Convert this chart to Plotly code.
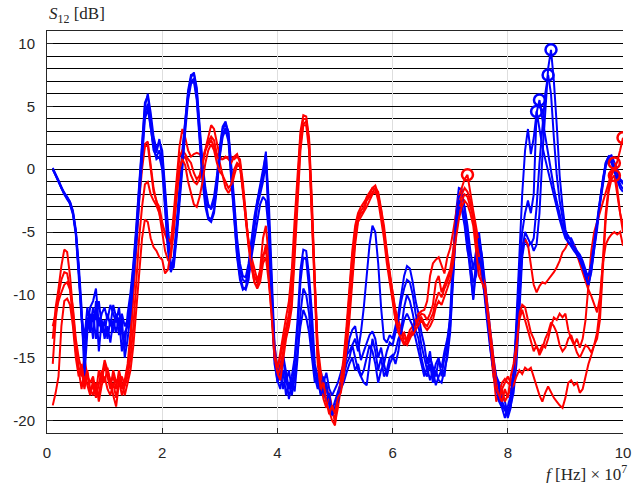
import numpy as np
import plotly.graph_objects as go

# frequency samples (x 10^7 Hz)
f = np.round(np.arange(0.1, 10.0 + 1e-9, 0.05), 2)

blue_1 = [0.0, -0.5, -1.0, -1.6, -2.0, -2.3, -2.8, -3.6, -5.2, -8.5, -12.0, -15.0, -12.5, -11.0, -10.5, -9.5, -12.5, -11.5,
          -11.0, -12.0, -10.8, -11.5, -12.2, -11.0, -13.0, -14.2, -11.5, -9.8, -7.5, -4.5, -1.0, 2.5, 5.3, 5.8, 4.0, 2.2, 1.3, 2.4,
          1.0, -2.0, -5.5, -8.0, -7.0, -4.5, -1.5, 1.5, 4.0, 6.3, 7.5, 7.6, 6.2, 3.0, 0.0, -2.0, -3.0, -3.0, -2.2, -0.5,
          1.8, 3.4, 3.8, 2.8, 0.0, -3.0, -6.0, -8.0, -8.8, -9.0, -8.0, -5.8, -4.0, -2.6, -1.5, -0.5, 1.4, -3.5, -9.5, -14.5,
          -16.5, -15.5, -14.8, -16.0, -17.5, -16.5, -15.0, -12.0, -8.0, -6.4, -6.5, -8.5, -11.5, -15.5, -16.5, -16.0, -17.0, -16.2, -17.5, -18.0,
          -17.5, -17.0, -16.2, -15.5, -14.8, -14.5, -14.0, -13.5, -14.5, -13.0, -11.0, -8.5, -6.0, -4.5, -5.0, -7.5, -11.0, -13.5, -13.8, -13.2,
          -13.5, -12.5, -11.5, -10.0, -8.5, -7.7, -7.9, -9.0, -10.5, -11.5, -13.0, -14.0, -15.5, -14.5, -16.5, -15.5, -15.0, -16.5, -15.0, -14.0,
          -11.5, -7.0, -3.5, -1.5, -1.6, -3.2, -5.0, -8.0, -10.3, -7.0, -5.0, -7.0, -9.5, -11.5, -13.5, -15.5, -16.5, -17.0, -18.0, -18.5,
          -19.5, -18.8, -17.8, -15.5, -11.5, -7.0, -5.5, -6.2, -5.8, -6.5, -6.0, -3.5, 1.0, 5.0, 8.0, 9.5, 7.0, 3.5, -0.5, -3.0,
          -4.8, -5.5, -5.5, -6.0, -6.5, -6.8, -7.3, -8.0, -8.8, -7.8, -6.0, -4.5, -2.5, -1.0, 0.5, 1.0, 1.1, 0.5, 0.0, -0.8,
          -1.2]

blue_2 = [0.0, -0.4, -0.9, -1.5, -1.9, -2.3, -2.6, -3.4, -5.0, -8.0, -11.5, -13.5, -11.0, -12.5, -11.0, -12.0, -10.5, -12.5,
          -13.0, -11.5, -12.5, -10.8, -11.8, -12.5, -11.5, -12.5, -12.0, -10.5, -8.0, -5.0, -1.5, 2.0, 5.0, 6.0, 4.5, 2.6, 1.6, 2.2,
          1.5, -1.5, -5.0, -7.7, -7.3, -5.0, -2.0, 1.0, 3.8, 6.0, 7.3, 7.7, 6.5, 3.5, 0.5, -1.5, -2.8, -3.2, -2.6, -1.0,
          1.5, 3.2, 3.6, 3.0, 0.5, -2.5, -5.5, -7.5, -8.5, -8.6, -7.5, -5.5, -3.8, -2.5, -1.2, 0.0, 1.2, -2.5, -8.5, -14.0,
          -16.0, -16.8, -15.0, -17.0, -16.0, -17.5, -15.5, -13.0, -9.0, -7.0, -7.2, -9.5, -13.0, -16.0, -17.0, -17.8, -16.5, -17.5, -18.5, -19.2,
          -18.5, -17.8, -17.0, -16.0, -15.0, -13.5, -12.8, -12.5, -14.0, -15.2, -14.5, -13.8, -13.2, -12.9, -13.5, -15.0, -14.2, -15.5, -14.5, -13.8,
          -14.0, -13.0, -12.0, -10.5, -9.5, -8.8, -9.0, -10.0, -11.5, -12.5, -14.0, -15.0, -16.0, -15.0, -15.8, -16.5, -15.2, -15.8, -14.5, -13.5,
          -12.0, -8.0, -4.0, -2.2, -2.0, -3.0, -4.5, -6.5, -8.0, -6.5, -5.5, -6.8, -9.0, -11.0, -13.0, -15.0, -16.5, -17.5, -18.5, -19.0,
          -19.8, -19.0, -17.0, -14.5, -10.5, -6.5, -5.0, -5.5, -6.0, -5.5, -3.0, 0.5, 3.5, 6.0, 7.5, 6.0, 2.5, -0.5, -2.5, -4.0,
          -5.2, -5.8, -6.0, -6.2, -6.8, -7.2, -7.8, -8.5, -9.3, -8.0, -6.5, -4.8, -2.8, -1.2, 0.2, 0.9, 0.8, 0.0, -0.5, -1.2,
          -1.6]

blue_3 = [0.1, -0.4, -0.9, -1.5, -1.9, -2.2, -2.6, -3.3, -4.8, -7.5, -11.0, -16.5, -13.0, -11.5, -13.5, -10.5, -14.5, -12.0,
          -13.5, -12.5, -13.8, -12.0, -13.0, -11.8, -14.5, -13.0, -12.5, -11.0, -8.5, -5.5, -2.0, 1.5, 4.5, 5.2, 3.5, 1.5, 1.0, 1.5,
          0.5, -2.5, -6.0, -8.2, -7.5, -5.0, -2.5, 0.5, 3.5, 5.8, 7.0, 7.2, 5.8, 2.5, -0.5, -2.5, -3.8, -4.0, -3.2, -1.2,
          1.2, 2.8, 3.3, 2.5, -0.5, -3.5, -6.8, -8.5, -9.4, -9.6, -8.8, -6.5, -4.5, -3.0, -2.0, -1.0, 0.5, -4.0, -10.0, -15.0,
          -17.0, -16.0, -17.5, -16.5, -18.3, -17.0, -17.7, -15.0, -11.5, -9.5, -10.0, -11.5, -14.5, -16.5, -17.5, -16.8, -18.0, -17.0, -18.8, -19.5,
          -19.0, -18.0, -17.2, -16.5, -15.5, -15.0, -14.0, -15.0, -16.0, -16.5, -17.0, -17.2, -15.5, -13.5, -14.5, -16.0, -15.0, -16.5, -16.0, -15.0,
          -14.8, -15.5, -14.5, -12.5, -11.0, -10.0, -10.5, -11.5, -12.8, -13.5, -15.0, -16.0, -16.5, -15.5, -17.0, -16.0, -16.8, -17.0, -16.0, -15.0,
          -13.0, -9.0, -4.5, -2.5, -2.8, -4.0, -6.0, -8.5, -10.4, -8.0, -6.0, -7.5, -10.0, -12.0, -14.0, -16.0, -17.2, -18.0, -18.8, -19.2,
          -19.5, -18.5, -16.5, -12.0, -6.5, -2.0, 1.5, 3.2, 1.2, 2.5, 4.5, 5.5, 4.0, 2.6, 1.2, 0.0, -1.5, -2.6, -3.5, -4.5,
          -5.0, -5.3, -5.8, -6.2, -6.5, -7.0, -7.5, -8.2, -8.5, -7.5, -5.8, -4.0, -2.2, -0.8, 0.5, 1.0, 0.7, 0.2, -0.3, -0.8,
          -1.0]

blue_4 = [0.0, -0.5, -1.0, -1.6, -2.0, -2.4, -2.7, -3.5, -5.0, -8.0, -12.0, -14.5, -11.8, -13.0, -11.5, -13.5, -11.8, -13.0,
          -12.0, -13.5, -12.0, -13.0, -11.5, -13.2, -12.0, -15.0, -13.5, -11.5, -9.0, -6.0, -2.5, 1.0, 4.0, 4.8, 3.2, 1.8, 0.8, 1.0,
          0.0, -3.0, -6.5, -8.0, -7.8, -5.5, -3.0, 0.0, 3.0, 5.5, 6.8, 7.0, 5.5, 2.0, -1.0, -3.0, -4.0, -4.2, -3.5, -1.5,
          1.0, 2.6, 3.1, 2.2, -1.0, -4.0, -7.0, -8.8, -9.6, -9.4, -8.5, -7.0, -5.5, -4.0, -2.8, -2.2, -2.5, -5.0, -10.5, -15.5,
          -16.8, -17.5, -16.0, -18.0, -17.0, -18.0, -16.5, -14.5, -12.5, -11.2, -11.8, -13.0, -15.0, -17.0, -16.5, -18.0, -17.5, -18.5, -17.8, -19.6,
          -19.0, -18.5, -17.5, -17.0, -16.2, -15.5, -15.0, -16.0, -15.5, -16.5, -16.0, -15.0, -14.0, -14.5, -15.5, -17.0, -16.0, -15.5, -16.5, -15.5,
          -15.0, -14.5, -13.5, -13.0, -12.0, -11.5, -12.0, -12.5, -13.5, -14.5, -15.5, -16.5, -15.8, -16.8, -16.0, -17.2, -16.5, -16.0, -16.5, -14.5,
          -12.5, -8.5, -5.0, -3.0, -3.2, -4.5, -6.5, -7.5, -9.0, -8.5, -7.0, -8.0, -10.5, -12.5, -14.5, -16.2, -17.5, -18.5, -19.0, -19.8,
          -19.0, -18.0, -16.0, -13.0, -8.5, -5.0, -3.5, -2.5, -3.5, -2.0, 4.6, 3.0, 1.8, 0.8, -0.2, -1.0, -2.0, -3.0, -4.0, -4.8,
          -5.5, -5.8, -6.2, -6.5, -6.8, -7.2, -7.8, -8.6, -9.2, -8.2, -6.2, -4.5, -2.5, -1.0, 0.3, 0.8, 0.5, -0.2, -0.8, -1.5,
          -1.8]

red_1 = [-13.5, -11.0, -9.5, -7.7, -6.4, -6.6, -8.5, -11.5, -14.0, -15.8, -16.5, -15.0, -16.5, -17.0, -16.5, -17.8, -16.0, -17.0,
         -15.5, -16.5, -17.5, -16.0, -17.0, -16.5, -17.5, -16.8, -15.5, -13.0, -9.5, -5.5, -2.0, 0.5, 2.0, 2.2, 0.3, -1.5, -2.6, -3.0,
         -4.2, -5.2, -5.8, -6.0, -3.5, -0.5, 1.8, 3.2, 2.5, 1.5, 1.0, 1.2, 1.3, 1.2, 0.8, 1.6, 2.5, 3.5, 3.2, 2.0,
         1.0, 0.8, 0.9, 1.0, 1.0, 0.8, 1.0, 0.8, -1.0, -3.5, -6.0, -7.5, -8.5, -9.0, -8.0, -5.5, -4.5, -7.0, -10.5, -14.0,
         -16.0, -14.5, -13.0, -11.8, -10.5, -8.0, -4.0, 0.0, 3.0, 4.3, 4.2, 2.5, -2.5, -9.0, -14.0, -16.0, -17.5, -18.5, -19.3, -20.0,
         -20.4, -18.0, -17.0, -15.5, -13.0, -10.0, -7.0, -5.0, -3.8, -3.3, -3.0, -2.2, -1.8, -1.5, -1.3, -2.0, -3.5, -5.0, -7.0, -8.5,
         -10.0, -11.2, -12.0, -12.8, -13.5, -13.5, -12.8, -12.5, -12.0, -11.5, -11.3, -11.2, -10.5, -8.5, -7.5, -7.2, -7.0, -7.6, -8.3, -7.0,
         -6.3, -5.0, -3.5, -2.2, -1.5, -0.8, -0.45, -2.0, -3.3, -4.6, -6.0, -8.0, -9.3, -11.5, -14.0, -16.2, -18.5, -17.8, -17.0, -16.7,
         -17.0, -17.2, -16.2, -13.0, -8.0, -6.0, -5.6, -6.0, -7.8, -9.2, -9.8, -9.3, -9.0, -9.1, -8.8, -8.5, -8.2, -7.8, -7.3, -6.6,
         -6.3, -5.8, -6.0, -6.1, -6.8, -7.5, -8.2, -9.0, -9.6, -10.1, -10.8, -11.4, -10.2, -7.5, -6.0, -5.5, -5.2, -5.0, -5.2, -5.0,
         -6.1]

red_2 = [-15.5, -12.0, -10.0, -8.8, -8.2, -8.3, -9.5, -12.0, -14.5, -16.0, -17.5, -16.0, -17.2, -18.0, -16.8, -17.5, -18.0, -16.5,
         -15.2, -16.0, -16.8, -18.0, -18.9, -17.0, -16.5, -17.2, -16.0, -13.8, -10.0, -6.0, -2.5, 0.0, 1.8, 1.9, 0.0, -1.8, -2.5, -3.5,
         -4.5, -5.0, -5.5, -5.8, -4.0, -1.5, 1.0, 1.5, 1.2, 0.8, 0.5, -0.3, -0.8, -0.5, 0.5, 1.5, 2.2, 2.6, 2.3, 1.2,
         0.5, -0.5, -1.5, -1.9, -1.5, -0.5, 0.3, 0.2, -1.5, -4.0, -6.0, -7.5, -9.0, -9.3, -8.5, -6.8, -6.5, -8.0, -11.0, -14.5,
         -15.8, -15.0, -13.8, -12.5, -11.5, -9.0, -5.0, -0.8, 2.6, 4.0, 4.0, 2.2, -3.0, -9.5, -14.5, -16.5, -18.0, -17.2, -18.5, -19.5,
         -19.8, -18.5, -16.8, -15.0, -12.5, -9.5, -6.5, -4.5, -3.5, -3.0, -2.6, -2.3, -2.0, -1.5, -1.6, -2.5, -4.0, -5.5, -7.5, -9.0,
         -10.5, -12.0, -12.5, -13.0, -13.8, -14.0, -13.5, -13.0, -12.2, -11.8, -11.5, -11.6, -12.0, -11.5, -10.8, -9.0, -8.5, -9.8, -9.2, -8.5,
         -8.0, -6.5, -4.5, -3.0, -2.0, -1.5, -1.8, -2.5, -4.0, -5.5, -7.5, -8.7, -10.0, -12.0, -14.5, -16.5, -17.5, -18.0, -17.5, -17.0,
         -16.5, -17.0, -16.5, -14.5, -11.5, -10.8, -11.0, -12.0, -13.0, -13.5, -14.2, -14.5, -14.0, -14.2, -13.5, -12.5, -11.8, -12.0, -11.5, -11.8,
         -11.5, -12.8, -13.5, -14.0, -13.5, -14.2, -13.5, -12.0, -9.5, -6.5, -5.0, -4.2, -3.5, -2.5, -1.8, -1.0, -0.2, 0.5, -1.5, -3.5,
         -4.5]

red_3 = [-18.8, -17.8, -16.5, -12.5, -10.5, -10.3, -10.8, -12.5, -15.0, -16.5, -15.5, -17.0, -16.0, -17.5, -18.0, -17.0, -18.5, -17.2,
         -16.5, -17.5, -18.0, -17.0, -18.2, -16.8, -18.0, -17.2, -16.5, -15.0, -12.5, -9.0, -5.5, -3.0, -1.2, -1.0, -2.0, -2.5, -2.9, -3.5,
         -5.0, -6.5, -7.2, -7.0, -5.0, -2.0, 0.0, 0.8, 1.0, 0.2, -0.5, -1.0, -1.2, -0.8, 0.5, 1.5, 2.0, 2.3, 1.8, 1.0,
         0.8, 0.8, 1.0, 0.8, 0.5, 1.0, 1.2, 0.5, -1.5, -3.8, -5.8, -7.0, -8.0, -8.8, -8.2, -7.0, -6.0, -8.5, -12.0, -15.0,
         -16.5, -15.8, -14.5, -13.0, -12.0, -10.5, -6.0, -1.5, 2.0, 3.6, 3.8, 2.0, -3.5, -10.0, -15.0, -17.0, -18.3, -19.0, -17.8, -19.0,
         -20.2, -19.0, -17.5, -16.0, -14.0, -11.0, -8.0, -5.5, -4.0, -3.5, -3.3, -2.5, -2.2, -1.8, -1.5, -1.8, -3.0, -4.5, -6.5, -8.0,
         -9.8, -11.5, -12.5, -13.2, -13.0, -13.8, -13.2, -12.8, -12.5, -12.0, -11.8, -12.3, -12.5, -12.0, -11.5, -10.5, -9.8, -10.2, -9.5, -9.0,
         -8.2, -7.0, -5.0, -3.5, -2.5, -2.0, -2.2, -3.0, -3.8, -5.5, -7.0, -8.5, -9.0, -11.0, -13.5, -15.5, -17.0, -18.5, -17.5, -18.5,
         -18.0, -17.5, -17.2, -16.5, -16.0, -16.3, -15.8, -16.0, -15.8, -16.5, -17.2, -18.0, -18.5, -17.8, -17.3, -17.8, -18.2, -18.5, -18.8, -19.0,
         -18.2, -17.0, -16.8, -17.2, -17.0, -17.8, -17.5, -16.5, -15.5, -14.8, -14.0, -13.5, -12.0, -8.0, -4.0, -1.8, -0.8, -0.5, -2.0, -3.8,
         -5.0]

red_4 = [-12.5, -11.5, -10.5, -9.8, -9.2, -9.0, -9.6, -11.0, -13.5, -15.0, -16.0, -17.5, -16.2, -17.8, -17.2, -18.2, -17.0, -16.0,
         -17.0, -15.8, -17.0, -16.5, -17.5, -16.0, -17.0, -18.0, -17.0, -16.0, -14.0, -11.0, -8.0, -5.5, -4.0, -4.2, -5.5, -6.2, -6.5, -7.0,
         -7.2, -8.3, -8.0, -6.5, -4.5, -2.0, 0.0, 0.8, 0.3, -1.0, -2.0, -2.8, -3.0, -2.2, -1.0, 0.5, 1.5, 2.0, 1.5, 0.5,
         -0.2, -0.5, -1.0, -1.5, -1.2, 0.0, 0.5, 0.3, -1.8, -4.2, -6.2, -7.8, -9.0, -9.5, -9.0, -7.5, -7.0, -9.0, -11.5, -15.0,
         -16.2, -16.8, -15.0, -13.5, -12.5, -11.0, -7.0, -2.5, 1.5, 3.5, 3.5, 1.5, -4.0, -10.5, -15.5, -17.5, -17.0, -18.5, -19.5, -18.8,
         -19.5, -18.2, -17.8, -16.5, -14.5, -12.0, -9.0, -6.0, -4.2, -3.8, -3.5, -3.0, -2.5, -2.0, -1.8, -2.2, -3.2, -5.0, -7.0, -8.8,
         -10.5, -12.0, -13.0, -13.5, -14.0, -13.5, -13.0, -13.2, -12.8, -12.5, -12.0, -12.5, -12.8, -12.5, -12.0, -11.0, -10.5, -10.8, -10.2, -9.5,
         -8.8, -7.5, -5.5, -4.0, -3.0, -2.5, -2.8, -3.5, -4.5, -6.5, -8.5, -9.0, -9.5, -11.5, -14.0, -16.0, -17.5, -18.0, -18.5, -17.5,
         -18.2, -16.5, -15.5, -14.0, -12.0, -11.2, -12.0, -13.0, -13.8, -14.5, -14.0, -14.8, -14.3, -13.5, -13.0, -12.2, -12.5, -13.0, -14.0, -14.5,
         -14.2, -13.5, -13.2, -14.0, -14.6, -15.0, -14.5, -14.0, -14.2, -14.6, -14.0, -13.0, -11.0, -7.0, -3.5, -1.5, -0.5, 0.0, 0.6, 1.5,
         2.5]

blue_curves = [blue_1, blue_2, blue_3, blue_4]
red_curves = [red_1, red_2, red_3, red_4]
for c in blue_curves + red_curves:
    assert len(c) == len(f), len(c)

y_tick_vals = [-20, -15, -10, -5, 0, 5, 10]
y_tick_text = ["-20", "-15", "-10", "-5", "0", "5", "10"]
x_tick_vals = [0, 2, 4, 6, 8, 10]
x_tick_text = ["0", "2", "4", "6", "8", "10"]
peak_from = 7.0  # circles mark each curve's maximum above this frequency

BLUE = "rgb(0,0,255)"
RED = "rgb(255,0,0)"
AX = "#262626"

fig = go.Figure()
for b, r in zip(blue_curves, red_curves):
    fig.add_trace(go.Scatter(x=f, y=b, mode="lines", line=dict(color=BLUE, width=2), showlegend=False))
    fig.add_trace(go.Scatter(x=f, y=r, mode="lines", line=dict(color=RED, width=2), showlegend=False))

mask = f >= peak_from
for curves, col in ((blue_curves, BLUE), (red_curves, RED)):
    px, py = [], []
    for c in curves:
        arr = np.array(c)
        idx = np.where(mask)[0][np.argmax(arr[mask])]
        px.append(f[idx]); py.append(arr[idx])
    fig.add_trace(go.Scatter(x=px, y=py, mode="markers",
                             marker=dict(symbol="circle-open", size=11, color=col, line=dict(width=2.5, color=col)),
                             showlegend=False))

fig.update_layout(
    width=644, height=483,
    margin=dict(l=47, r=21, t=31, b=50),
    paper_bgcolor="white", plot_bgcolor="white",
    font=dict(family="Liberation Sans, Arial, sans-serif", size=15, color=AX),
    xaxis=dict(range=[0, 10], tickmode="array", tickvals=x_tick_vals, ticktext=x_tick_text,
               ticks="inside", ticklen=5, tickwidth=1, tickcolor=AX,
               showline=True, linecolor=AX, linewidth=1, mirror=True,
               showgrid=True, gridcolor="#dedede", gridwidth=1, zeroline=False,
               ticklabelstandoff=6),
    yaxis=dict(range=[-21, 11], tickmode="array", tickvals=y_tick_vals, ticktext=y_tick_text,
               ticks="inside", ticklen=6, tickwidth=1, tickcolor=AX,
               showline=True, linecolor=AX, linewidth=1, mirror=False,
               showgrid=True, gridcolor="black", gridwidth=1, zeroline=False,
               minor=dict(dtick=1, tick0=0, showgrid=True, gridcolor="black", gridwidth=1, ticks=""),
               ticklabelstandoff=8),
    annotations=[
        dict(text="<i>S</i><sub>12</sub> [dB]", xref="paper", yref="paper", x=0, y=1,
             xanchor="left", yanchor="bottom", yshift=3, showarrow=False,
             font=dict(family="Liberation Serif, DejaVu Serif, serif", size=17, color=AX)),
        dict(text="<i>f</i> [Hz] × 10<sup>7</sup>", xref="paper", yref="paper", x=1, y=0,
             xanchor="right", yanchor="top", xshift=6, yshift=-27, showarrow=False,
             font=dict(family="Liberation Serif, DejaVu Serif, serif", size=17, color=AX)),
    ],
)

fig.write_html("out.html", config={"displayModeBar": False},
               post_script="document.body.style.margin='0';document.body.style.overflow='hidden';")
